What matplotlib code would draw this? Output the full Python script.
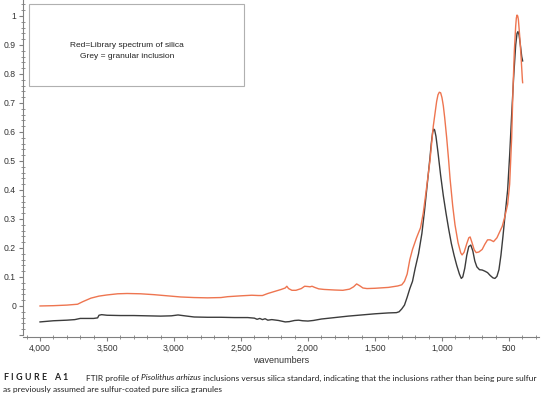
import matplotlib
matplotlib.use("Agg")
import matplotlib.pyplot as plt
from matplotlib.patches import Rectangle
from matplotlib.ticker import MultipleLocator, FuncFormatter, FixedLocator


# library spectrum of silica (red)
red_wn = [4000, 3900, 3800, 3720, 3680, 3620, 3560, 3500, 3420, 3350, 3250, 3150,
          3050, 2950, 2850, 2750, 2650, 2600, 2500, 2420, 2370, 2340, 2300, 2250,
          2200, 2170, 2158, 2145, 2120, 2090, 2050, 2025, 2000, 1985, 1970, 1950,
          1920, 1880, 1800, 1740, 1690, 1660, 1637, 1615, 1590, 1560, 1500, 1400,
          1330, 1300, 1280, 1260, 1240, 1220, 1190, 1160, 1140, 1120, 1090, 1065,
          1040, 1030, 1020, 1010, 1000, 990, 980, 965, 950, 940, 920, 903, 880, 860,
          850, 835, 815, 800, 790, 775, 760, 745, 725, 700, 680, 660, 640, 615, 590,
          570, 550, 530, 510, 495, 480, 470, 460, 450, 445, 440, 435, 430, 420, 410,
          400, 398]
red_abs = [0.000, 0.001, 0.003, 0.006, 0.015, 0.027, 0.034, 0.038, 0.042, 0.043, 0.042, 0.039,
           0.035, 0.031, 0.029, 0.028, 0.029, 0.032, 0.035, 0.037, 0.036, 0.036, 0.043, 0.050,
           0.057, 0.062, 0.068, 0.060, 0.054, 0.054, 0.060, 0.068, 0.067, 0.066, 0.068, 0.064,
           0.059, 0.057, 0.055, 0.054, 0.058, 0.066, 0.076, 0.070, 0.062, 0.060, 0.061, 0.064,
           0.069, 0.073, 0.085, 0.110, 0.160, 0.195, 0.235, 0.270, 0.320, 0.390, 0.500, 0.620,
           0.705, 0.728, 0.737, 0.735, 0.718, 0.690, 0.650, 0.580, 0.500, 0.440, 0.345, 0.280,
           0.218, 0.183, 0.176, 0.185, 0.215, 0.235, 0.238, 0.217, 0.194, 0.184, 0.186, 0.195,
           0.213, 0.228, 0.228, 0.222, 0.235, 0.255, 0.275, 0.310, 0.350, 0.420, 0.580, 0.750,
           0.880, 0.965, 0.993, 1.003, 1.000, 0.988, 0.930, 0.860, 0.780, 0.770]

# granular inclusion (grey)
grey_wn = [4000, 3900, 3800, 3740, 3700, 3650, 3600, 3570, 3560, 3540, 3500, 3400,
           3300, 3200, 3100, 3020, 2970, 2920, 2850, 2750, 2650, 2550, 2450, 2400,
           2380, 2360, 2340, 2320, 2300, 2270, 2220, 2170, 2140, 2100, 2070, 2040,
           2000, 1960, 1900, 1800, 1700, 1600, 1500, 1400, 1340, 1320, 1300, 1280,
           1260, 1240, 1220, 1200, 1175, 1150, 1130, 1110, 1090, 1080, 1070, 1062,
           1055, 1045, 1030, 1010, 990, 970, 950, 930, 910, 890, 870, 856, 845, 830,
           815, 800, 785, 770, 755, 740, 720, 700, 680, 660, 640, 620, 605, 590, 575,
           560, 545, 530, 510, 495, 480, 465, 450, 440, 433, 425, 415, 405, 398]
grey_abs = [-0.055, -0.051, -0.049, -0.047, -0.043, -0.043, -0.043, -0.041, -0.032, -0.030, -0.032, -0.033,
            -0.033, -0.034, -0.035, -0.034, -0.031, -0.034, -0.038, -0.039, -0.039, -0.040, -0.040, -0.042,
            -0.046, -0.043, -0.047, -0.044, -0.049, -0.047, -0.050, -0.055, -0.054, -0.050, -0.049, -0.051,
            -0.052, -0.050, -0.045, -0.040, -0.035, -0.031, -0.027, -0.024, -0.023, -0.020, -0.010, 0.003,
            0.030, 0.060, 0.085, 0.130, 0.180, 0.250, 0.330, 0.420, 0.510, 0.560, 0.598, 0.610,
            0.607, 0.585, 0.530, 0.450, 0.380, 0.320, 0.265, 0.215, 0.175, 0.140, 0.110, 0.095,
            0.100, 0.130, 0.175, 0.205, 0.210, 0.190, 0.155, 0.135, 0.125, 0.124, 0.120, 0.115,
            0.105, 0.097, 0.095, 0.102, 0.125, 0.175, 0.240, 0.310, 0.400, 0.520, 0.660, 0.790,
            0.900, 0.940, 0.946, 0.935, 0.900, 0.860, 0.845]

y_ticks = [-0.1, 0, 0.1, 0.2, 0.3, 0.4, 0.5, 0.6, 0.7, 0.8, 0.9, 1.0]
y_labels = ["", "0", "0.1", "0.2", "0.3", "0.4", "0.5", "0.6", "0.7", "0.8", "0.9", "1"]

legend_lines = ["Red=Library spectrum of silica", "Grey = granular inclusion"]
caption_line1 = [("FTIR profile of ", "normal"), ("Pisolithus arhizus", "italic"),
                 (" inclusions versus silica standard, indicating that the inclusions "
                  "rather than being pure sulfur", "normal")]
caption_line2 = "as previously assumed are sulfur-coated pure silica granules"

RED = "#EE7550"
GREY = "#3c3c3c"
AXIS = "#808080"
TEXT = "#333333"

plt.rcParams["font.family"] = ["Liberation Sans", "DejaVu Sans"]

W, H = 544, 397
fig = plt.figure(figsize=(W / 100, H / 100), dpi=100)
ax = fig.add_axes([23 / W, 1 - 337 / H, (539 - 23) / W, 337 / H])

ax.plot(grey_wn, grey_abs, color=GREY, lw=1.0)
ax.plot(red_wn, red_abs, color=RED, lw=1.0)

ax.set_xlim(4127, 276)
ax.set_ylim(-0.107, 1.055)

for side in ("top", "right"):
    ax.spines[side].set_visible(False)
for side in ("left", "bottom"):
    ax.spines[side].set_color(AXIS)
    ax.spines[side].set_linewidth(0.8)
ax.spines["left"].set_bounds(-0.1, 1.055)

ax.xaxis.set_major_locator(MultipleLocator(500))
ax.xaxis.set_minor_locator(MultipleLocator(100))
ax.xaxis.set_major_formatter(FuncFormatter(lambda v, p: f"{v:,.0f}"))
ax.yaxis.set_major_locator(FixedLocator(y_ticks))
ax.yaxis.set_minor_locator(MultipleLocator(0.02))
ax.set_yticklabels(y_labels)

ax.tick_params(which="major", direction="out", length=3, width=0.8, color=AXIS,
               labelsize=6.2, labelcolor=TEXT, pad=2)
ax.tick_params(which="minor", direction="inout", length=2.2, width=0.6, color=AXIS)

ax.set_xlabel("wavenumbers", fontsize=6.5, color=TEXT, labelpad=2)

# legend-like box
box = Rectangle((29 / W, 1 - 86 / H), (244 - 29) / W, (86 - 4) / H,
                transform=fig.transFigure, fill=False, ec="#b0b0b0", lw=0.8)
fig.patches.append(box)
fig.text(127 / W, 1 - 45.5 / H, legend_lines[0], ha="center", va="center",
         fontsize=6, color="#222222")
fig.text(127 / W, 1 - 56 / H, legend_lines[1], ha="center", va="center",
         fontsize=6, color="#222222")

# caption, placed piece by piece
renderer = fig.canvas.get_renderer()
cap_font = ["Lato", "DejaVu Sans"]
cap_size = 6.05
x = 3
y1 = 1 - 378 / H
for ch in "FIGURE A1":
    t = fig.text(x / W, y1, ch, fontsize=6.4, fontweight="bold", family=cap_font,
                 color="#222222", va="center")
    x += t.get_window_extent(renderer).width + 2.4
x = 86
for txt, style in caption_line1:
    t = fig.text(x / W, y1, txt, fontsize=cap_size, style=style, family=cap_font,
                 color="#222222", va="center")
    x += t.get_window_extent(renderer).width
fig.text(3 / W, 1 - 389.5 / H, caption_line2, fontsize=cap_size, family=cap_font,
         color="#222222", va="center")

fig.savefig("out.png", dpi=100)
